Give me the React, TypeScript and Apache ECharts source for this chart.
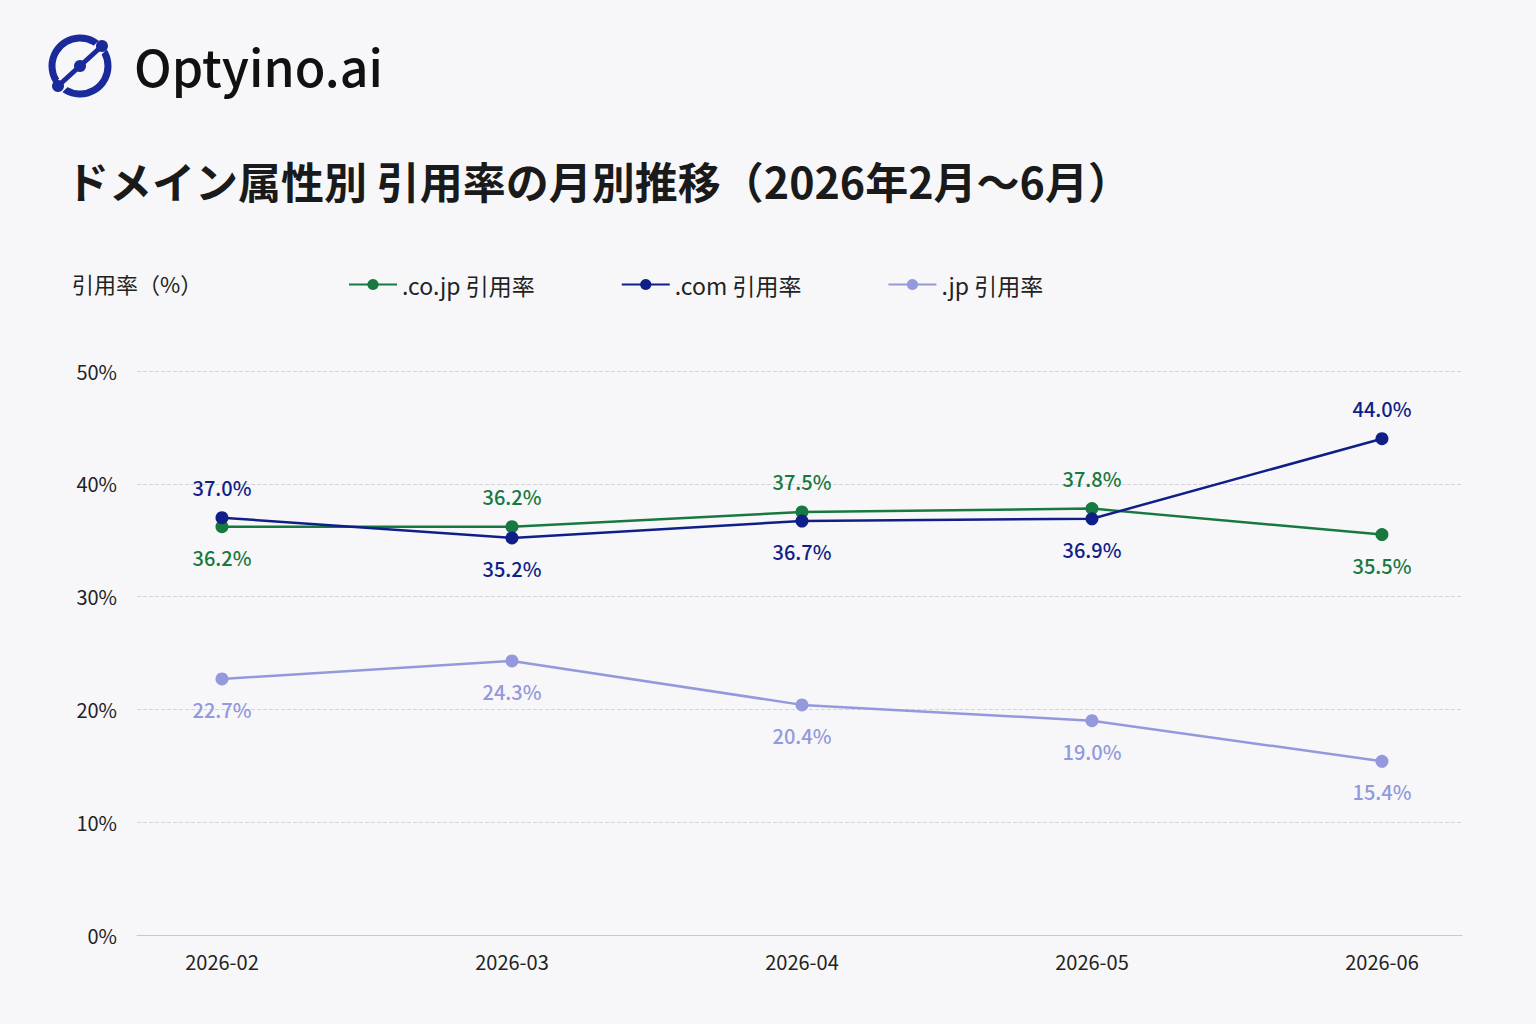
import { useEffect, useRef } from 'react'
import * as echarts from 'echarts'

const months = ['2026-02', '2026-03', '2026-04', '2026-05', '2026-06']
const coJp = [36.2, 36.2, 37.5, 37.8, 35.5]
const com = [37.0, 35.2, 36.7, 36.9, 44.0]
const jp = [22.7, 24.3, 20.4, 19.0, 15.4]
const yTicks = [0, 10, 20, 30, 40, 50]

const coJpPos = ['bottom', 'top', 'top', 'top', 'bottom']
const comPos = ['top', 'bottom', 'bottom', 'bottom', 'top']

const FONT = '"Noto Sans CJK JP", "Noto Sans", sans-serif'

function makeSeries(name: string, values: number[], color: string, pos: string[]) {
  return {
    name,
    type: 'line',
    data: values.map((v, i) => ({
      value: [i, v],
      label: { position: pos[i] },
    })),
    symbol: 'circle',
    symbolSize: 13,
    lineStyle: { width: 2.5, color },
    itemStyle: { color },
    label: {
      show: true,
      distance: 14,
      color,
      fontSize: 20,
      fontWeight: 500,
      fontFamily: FONT,
      formatter: (p: any) => p.value[1].toFixed(1) + '%',
    },
  }
}

export default function App() {
  const ref = useRef<HTMLDivElement>(null)

  useEffect(() => {
    document.body.style.margin = '0'
    if (!ref.current) return
    const chart = echarts.init(ref.current, null, { renderer: 'svg' })

    chart.setOption({
      animation: false,
      backgroundColor: '#f7f7f9',
      textStyle: { fontFamily: FONT },
      graphic: [
        { type: 'circle', shape: { cx: 80, cy: 66, r: 28 }, style: { fill: 'none', stroke: '#1a2a9a', lineWidth: 7 } },
        { type: 'line', shape: { x1: 56, y1: 90, x2: 106, y2: 42 }, style: { stroke: '#f7f7f9', lineWidth: 12 } },
        { type: 'line', shape: { x1: 58, y1: 86, x2: 102, y2: 46 }, style: { stroke: '#1a2a9a', lineWidth: 5 } },
        { type: 'circle', shape: { cx: 58, cy: 86, r: 6 }, style: { fill: '#1a2a9a' } },
        { type: 'circle', shape: { cx: 80, cy: 66, r: 6 }, style: { fill: '#1a2a9a' } },
        { type: 'circle', shape: { cx: 102, cy: 46, r: 6 }, style: { fill: '#1a2a9a' } },
        { type: 'text', left: 134, top: 40, style: { text: 'Optyino.ai', fontSize: 50, fontWeight: 500, fill: '#111', fontFamily: FONT } },
        { type: 'text', left: 66, top: 158, style: { text: 'ドメイン属性別 引用率の月別推移（2026年2月〜6月）', fontSize: 43, fontWeight: 'bold', fill: '#1a1a1a', fontFamily: FONT } },
        { type: 'text', left: 72, top: 272, style: { text: '引用率（%）', fontSize: 22, fill: '#222', fontFamily: FONT } },
      ],
      legend: {
        left: 343,
        top: 268,
        itemWidth: 48,
        itemHeight: 14,
        itemGap: 86,
        textStyle: { fontSize: 23, color: '#222', fontFamily: FONT },
        data: ['.co.jp 引用率', '.com 引用率', '.jp 引用率'],
      },
      grid: { left: 137, right: 74, top: 371, bottom: 89 },
      xAxis: {
        type: 'value',
        min: -0.293,
        max: 4.276,
        splitLine: { show: false },
        axisLine: { show: true, lineStyle: { color: '#c8c8cc' } },
        axisTick: { show: false },
        axisLabel: {
          customValues: [0, 1, 2, 3, 4],
          formatter: (v: number) => months[Math.round(v)],
          fontSize: 20,
          color: '#222',
          margin: 16,
        },
      },
      yAxis: {
        type: 'value',
        min: yTicks[0],
        max: yTicks[yTicks.length - 1],
        interval: 10,
        axisLine: { show: false },
        axisTick: { show: false },
        axisLabel: { formatter: '{value}%', fontSize: 20, color: '#222', margin: 20 },
        splitLine: { lineStyle: { color: '#d4d4d8', type: 'dashed' } },
      },
      series: [
        makeSeries('.co.jp 引用率', coJp, '#17793f', coJpPos),
        makeSeries('.com 引用率', com, '#101f88', comPos),
        makeSeries('.jp 引用率', jp, '#9399dc', ['bottom', 'bottom', 'bottom', 'bottom', 'bottom']),
      ],
    })

    return () => chart.dispose()
  }, [])

  return <div ref={ref} style={{ width: 1536, height: 1024 }} />
}
